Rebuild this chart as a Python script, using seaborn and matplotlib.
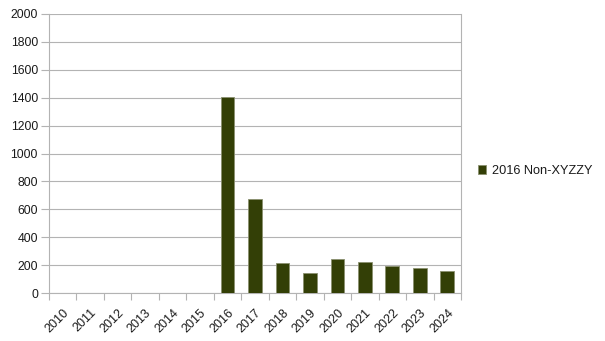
import numpy as np
import pandas as pd
import matplotlib
matplotlib.use("Agg")
import matplotlib.pyplot as plt
import seaborn as sns

years = [str(y) for y in range(2010, 2025)]
values = [np.nan, np.nan, np.nan, np.nan, np.nan, np.nan,
          1408, 671, 213, 146, 244, 225, 196, 177, 155]
series_name = "2016 Non-XYZZY"
yticks = list(range(0, 2001, 200))

sns.set_theme(style="white")
plt.rcParams['font.family'] = ['Liberation Sans', 'DejaVu Sans']

df = pd.DataFrame({"year": years, "value": values})

fig = plt.figure(figsize=(6.05, 3.41), dpi=100)
ax = fig.add_axes([49/605, 1-293/341, (461-49)/605, (293-14)/341])

bar_color = "#333f06"
sns.barplot(data=df, x="year", y="value", order=years, color=bar_color,
            width=0.5, saturation=1, edgecolor="#8a9070", linewidth=0.6,
            label=series_name, ax=ax, zorder=3)

grid_c = "#b3b3b3"
ax.set_ylim(0, 2000)
ax.set_xlim(-0.5, len(years) - 0.5)
ax.set_yticks(yticks)
ax.set_yticklabels([str(v) for v in yticks], fontsize=8.8, color="#1a1a1a")
ax.yaxis.grid(True, color=grid_c, linewidth=0.8, zorder=0)
ax.set_axisbelow(True)

# category boundary ticks (major) and centered labels (minor)
ax.set_xticks(np.arange(-0.5, len(years), 1.0))
ax.set_xticklabels([])
ax.set_xticks(np.arange(len(years)), minor=True)
ax.set_xticklabels(years, minor=True, rotation=45, ha="right",
                   rotation_mode="anchor", fontsize=9.0, color="#1a1a1a")
ax.tick_params(axis="x", which="major", length=5, width=0.8, color=grid_c, direction="out", bottom=True)
ax.tick_params(axis="x", which="minor", length=0, pad=10)
ax.tick_params(axis="y", which="major", length=6, width=0.8, color=grid_c, direction="out", left=True, pad=2)

for side in ["left", "bottom", "right"]:
    ax.spines[side].set_visible(True)
    ax.spines[side].set_color(grid_c)
    ax.spines[side].set_linewidth(0.8)
ax.spines["top"].set_visible(False)
ax.set_xlabel("")
ax.set_ylabel("")
if ax.get_legend() is not None:
    ax.get_legend().remove()

handles, labels = ax.get_legend_handles_labels()
fig.legend(handles[:1], labels[:1], loc="center left", bbox_to_anchor=(466/605, 0.5),
           frameon=False, fontsize=9.2, handlelength=0.7, handleheight=0.7,
           handletextpad=0.4, labelcolor="#1a1a1a")

fig.savefig("out.png", dpi=100)
